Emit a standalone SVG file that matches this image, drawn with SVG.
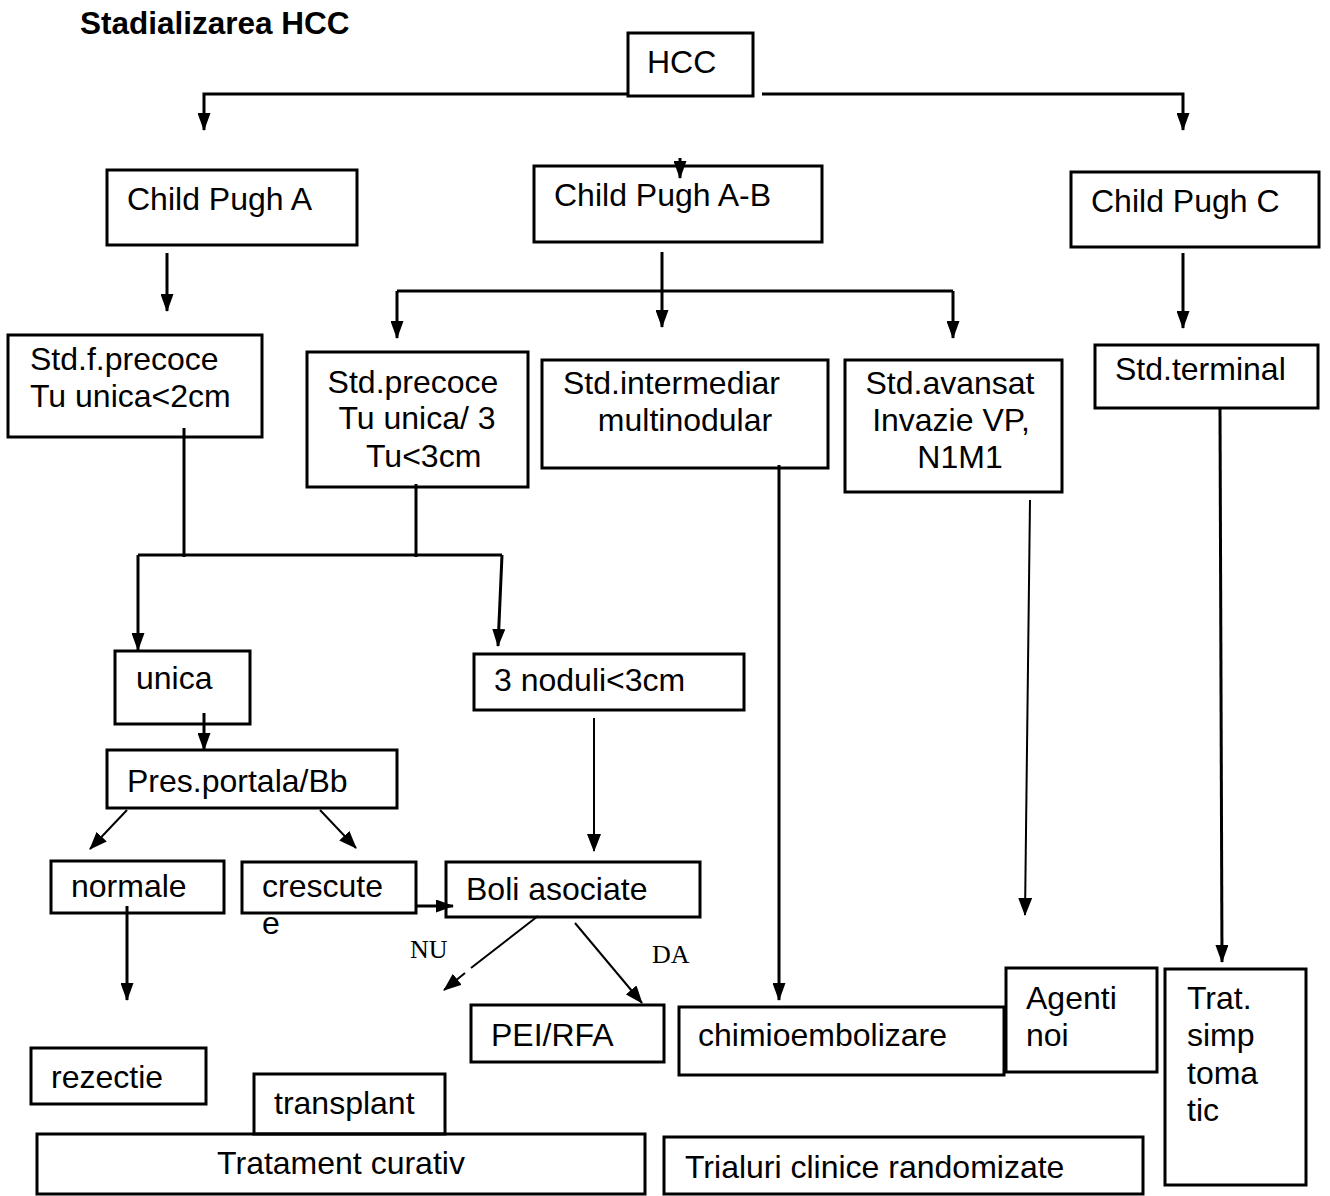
<svg xmlns="http://www.w3.org/2000/svg" width="1330" height="1196" viewBox="0 0 1330 1196">
<style>
.b{fill:none;stroke:#000;stroke-width:3}
.t{font-family:"Liberation Sans",Arial,sans-serif;font-size:32px;fill:#000}
.m{text-anchor:middle}
.s{font-family:"Liberation Serif","Times New Roman",serif;font-size:26px;fill:#000}
.c{fill:none;stroke:#000;stroke-width:3}
.d{fill:none;stroke:#000;stroke-width:2}
</style>
<defs>
<marker id="ah" viewBox="0 0 18 13" markerWidth="18" markerHeight="13" refX="17" refY="6.5" orient="auto" markerUnits="userSpaceOnUse"><path d="M0,0 L18,6.5 L0,13 z" fill="#000"/></marker>
<marker id="ahs" viewBox="0 0 18 14" markerWidth="18" markerHeight="14" refX="17" refY="7" orient="auto" markerUnits="userSpaceOnUse"><path d="M0,0 L18,7 L0,14 z" fill="#000"/></marker>
</defs>
<rect width="1330" height="1196" fill="#fff"/>
<text x="80" y="34" style="font-family:'Liberation Sans',Arial,sans-serif;font-size:31.5px;font-weight:bold">Stadializarea HCC</text>
<g id="n-hcc"><rect class="b" x="628" y="33" width="125" height="63"/><text class="t" x="647" y="73">HCC</text></g>
<g id="n-cpa"><rect class="b" x="107" y="170" width="250" height="75"/><text class="t" x="127" y="210">Child Pugh A</text></g>
<g id="n-cpab"><rect class="b" x="534" y="166" width="288" height="76"/><text class="t" x="554" y="206">Child Pugh A-B</text></g>
<g id="n-cpc"><rect class="b" x="1071" y="172" width="248" height="75"/><text class="t" x="1091" y="212">Child Pugh C</text></g>
<g id="n-sfp"><rect class="b" x="8" y="335" width="254" height="102"/><text class="t" x="30" y="370">Std.f.precoce</text><text class="t" x="30" y="407">Tu unica&lt;2cm</text></g>
<g id="n-sp"><rect class="b" x="307" y="352" width="221" height="135"/><text class="t m" x="413" y="393">Std.precoce</text><text class="t m" x="417" y="429">Tu unica/ 3</text><text class="t" x="366" y="467">Tu&lt;3cm</text></g>
<g id="n-si"><rect class="b" x="542" y="360" width="286" height="108"/><text class="t" x="563" y="394">Std.intermediar</text><text class="t m" x="685" y="431">multinodular</text></g>
<g id="n-sa"><rect class="b" x="845" y="360" width="217" height="132"/><text class="t m" x="950" y="394">Std.avansat</text><text class="t m" x="951" y="431">Invazie VP,</text><text class="t m" x="960" y="468">N1M1</text></g>
<g id="n-st"><rect class="b" x="1095" y="345" width="223" height="63"/><text class="t" x="1115" y="380">Std.terminal</text></g>
<g id="n-unica"><rect class="b" x="115" y="651" width="135" height="73"/><text class="t" x="136" y="689">unica</text></g>
<g id="n-3nod"><rect class="b" x="474" y="654" width="270" height="56"/><text class="t" x="494" y="691">3 noduli&lt;3cm</text></g>
<g id="n-pres"><rect class="b" x="107" y="750" width="290" height="58"/><text class="t" x="127" y="792">Pres.portala/Bb</text></g>
<g id="n-normale"><rect class="b" x="51" y="861" width="173" height="52"/><text class="t" x="71" y="897">normale</text></g>
<g id="n-crescute"><rect class="b" x="242" y="862" width="174" height="51"/><text class="t" x="262" y="897">crescute</text><text class="t" x="262" y="934">e</text></g>
<g id="n-boli"><rect class="b" x="446" y="862" width="254" height="55"/><text class="t" x="466" y="900">Boli asociate</text></g>
<g id="n-pei"><rect class="b" x="471" y="1005" width="193" height="57"/><text class="t" x="491" y="1046">PEI/RFA</text></g>
<g id="n-chimio"><rect class="b" x="679" y="1007" width="325" height="68"/><text class="t" x="698" y="1046">chimioembolizare</text></g>
<g id="n-agenti"><rect class="b" x="1006" y="968" width="151" height="104"/><text class="t" x="1026" y="1009">Agenti</text><text class="t" x="1026" y="1046">noi</text></g>
<g id="n-trat"><rect class="b" x="1165" y="969" width="141" height="216"/><text class="t" x="1187" y="1009">Trat.</text><text class="t" x="1187" y="1046">simp</text><text class="t" x="1187" y="1084">toma</text><text class="t" x="1187" y="1121">tic</text></g>
<g id="n-rezectie"><rect class="b" x="31" y="1048" width="175" height="56"/><text class="t" x="51" y="1088">rezectie</text></g>
<g id="n-transplant"><rect class="b" x="254" y="1074" width="191" height="60"/><text class="t" x="274" y="1114">transplant</text></g>
<g id="n-tc"><rect class="b" x="37" y="1134" width="608" height="60"/><text class="t m" x="341" y="1174">Tratament curativ</text></g>
<g id="n-trial"><rect class="b" x="664" y="1137" width="479" height="57"/><text class="t" x="685" y="1178">Trialuri clinice randomizate</text></g>
<text class="s" x="410" y="958">NU</text>
<text class="s" x="652" y="963">DA</text>
<g id="connectors">
<path class="c" d="M628,94 H204 V130" marker-end="url(#ah)"/>
<path class="c" d="M762,94 H1183 V130" marker-end="url(#ah)"/>
<path class="c" d="M680,158 V178" marker-end="url(#ah)"/>
<path class="c" d="M167,253 V311" marker-end="url(#ah)"/>
<path class="c" d="M662,252 V327" marker-end="url(#ah)"/>
<path class="c" d="M397,291 H953"/>
<path class="c" d="M397,291 V338" marker-end="url(#ah)"/>
<path class="c" d="M953,291 V338" marker-end="url(#ah)"/>
<path class="c" d="M1183,253 V328" marker-end="url(#ah)"/>
<path class="c" d="M184,428 V557"/>
<path class="c" d="M416,484 V557"/>
<path class="c" d="M138,555 H502"/>
<path class="c" d="M138,555 V650" marker-end="url(#ah)"/>
<path class="c" d="M502,555 L498,646" marker-end="url(#ah)"/>
<path class="c" d="M204,713 V750" marker-end="url(#ah)"/>
<path class="d" d="M127,810 L90,849" marker-end="url(#ahs)"/>
<path class="d" d="M320,810 L356,848" marker-end="url(#ahs)"/>
<path class="c" d="M127,906 V1000" marker-end="url(#ah)"/>
<path class="c" d="M416,906 H453" marker-end="url(#ah)"/>
<path class="d" d="M594,718 V851" marker-end="url(#ahs)"/>
<path class="d" d="M538,916 L471,968"/>
<path class="d" d="M465,973 L444,990" marker-end="url(#ahs)"/>
<path class="d" d="M575,923 L642,1003" marker-end="url(#ahs)"/>
<path class="c" d="M779,465 V1000" marker-end="url(#ah)"/>
<path class="d" d="M1030,500 L1025,915" marker-end="url(#ahs)"/>
<path class="c" d="M1220,408 L1222,962" marker-end="url(#ah)"/>
</g>
</svg>
